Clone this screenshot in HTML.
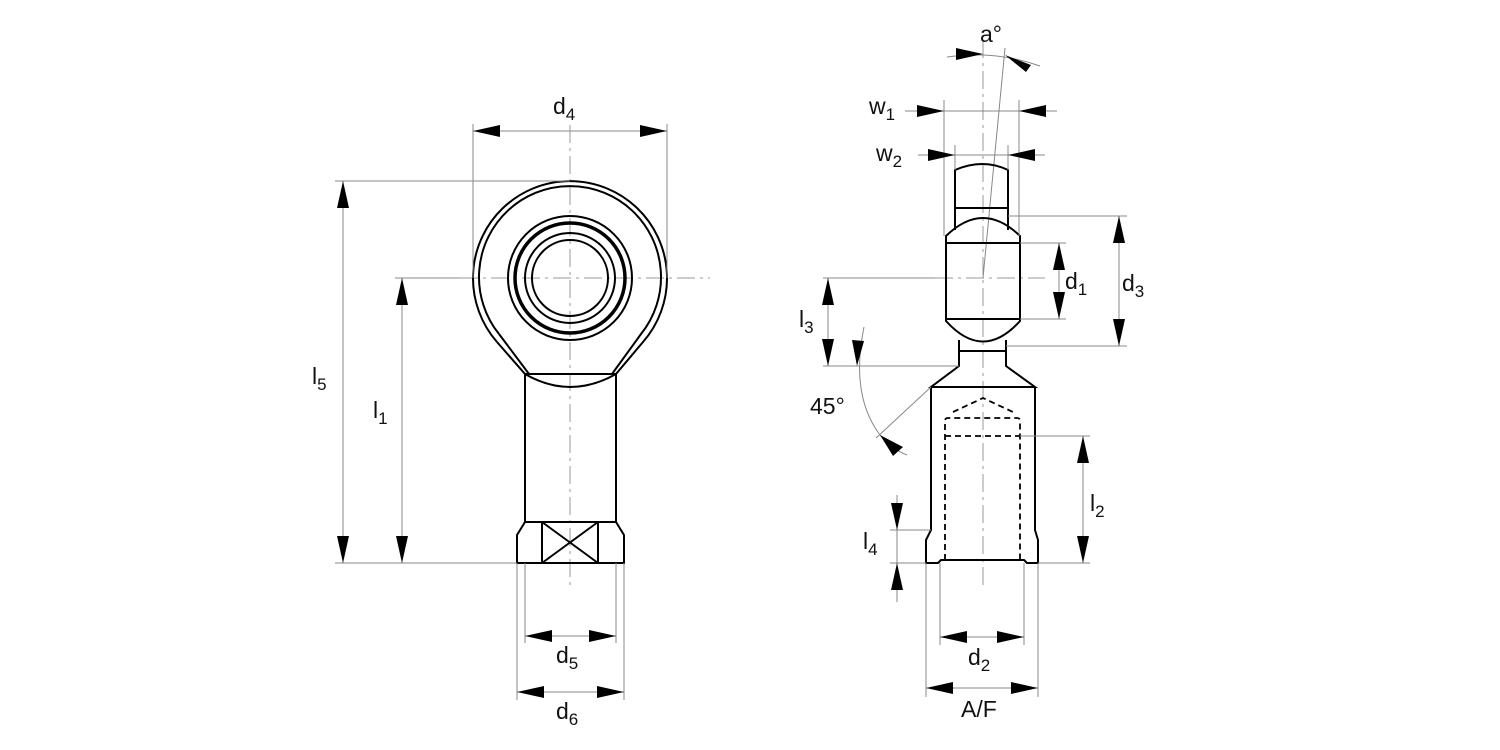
<!DOCTYPE html>
<html><head><meta charset="utf-8"><style>
html,body{margin:0;padding:0;background:#fff;}
svg{display:block;}
text{font-family:"Liberation Sans",Arial,sans-serif;font-size:23px;fill:#111;}
.s{font-size:17px;}
.o{stroke:#000;stroke-width:2;fill:none;}
.t{stroke:#888;stroke-width:1;fill:none;}
.c{stroke:#999;stroke-width:1;fill:none;stroke-dasharray:18,5,3,5;}
.d{stroke:#000;stroke-width:1.8;fill:none;stroke-dasharray:6,4;}
.a{fill:#000;stroke:none;}
</style></head><body>
<svg width="1500" height="750" viewBox="0 0 1500 750" xmlns="http://www.w3.org/2000/svg">
<line class="c" x1="460" y1="278" x2="710" y2="278"/>
<line class="c" x1="570" y1="125" x2="570" y2="585"/>
<path class="o" d="M497,342 A97,97 0 1 1 643,342 L616,374"/>
<path class="o" d="M497,342 L525,374"/>
<path class="o" d="M499,334 A91,91 0 1 1 641,334 L612,374"/>
<path class="o" d="M499,334 L529,374"/>
<circle class="o" cx="570" cy="278" r="62"/>
<circle cx="570" cy="278" r="55" fill="none" stroke="#000" stroke-width="3.5"/>
<circle class="o" cx="570" cy="278" r="45"/>
<circle class="o" cx="570" cy="278" r="38"/>
<path class="o" d="M525,374 L616,374 M525,374 L525,522 M616,374 L616,522"/>
<path class="o" d="M525,374 Q570,400 616,374"/>
<path class="o" d="M525,522 L616,522 L624,535 L624,563 L517,563 L517,535 Z"/>
<path class="o" d="M542,522 L542,563 M598,522 L598,563 M542,522 L598,563 M598,522 L542,563"/>
<line class="t" x1="473" y1="124" x2="473" y2="278"/>
<line class="t" x1="667" y1="124" x2="667" y2="278"/>
<line class="t" x1="473" y1="131" x2="667" y2="131"/>
<polygon class="a" points="473,131 500,125 500,137"/><polygon class="a" points="667,131 640,125 640,137"/>
<text x="553" y="114">d<tspan class="s" dy="6">4</tspan></text>
<line class="t" x1="335" y1="181" x2="570" y2="181"/>
<line class="t" x1="395" y1="278" x2="460" y2="278"/>
<line class="t" x1="335" y1="563" x2="517" y2="563"/>
<line class="t" x1="343" y1="181" x2="343" y2="563"/>
<polygon class="a" points="343,181 337,208 349,208"/><polygon class="a" points="343,563 337,536 349,536"/>
<line class="t" x1="402" y1="278" x2="402" y2="563"/>
<polygon class="a" points="402,278 396,305 408,305"/><polygon class="a" points="402,563 396,536 408,536"/>
<text x="312" y="384">l<tspan class="s" dy="6">5</tspan></text>
<text x="373" y="418">l<tspan class="s" dy="6">1</tspan></text>
<line class="t" x1="525" y1="563" x2="525" y2="643"/><line class="t" x1="616" y1="563" x2="616" y2="643"/>
<line class="t" x1="525" y1="636" x2="616" y2="636"/>
<polygon class="a" points="525,636 552,630 552,642"/><polygon class="a" points="616,636 589,630 589,642"/>
<text x="556" y="663">d<tspan class="s" dy="6">5</tspan></text>
<line class="t" x1="517" y1="563" x2="517" y2="700"/><line class="t" x1="624" y1="563" x2="624" y2="700"/>
<line class="t" x1="517" y1="692" x2="624" y2="692"/>
<polygon class="a" points="517,692 544,686 544,698"/><polygon class="a" points="624,692 597,686 597,698"/>
<text x="556" y="719">d<tspan class="s" dy="6">6</tspan></text>

<line class="c" x1="983" y1="40" x2="983" y2="585"/>
<line class="c" x1="935" y1="278" x2="1045" y2="278"/>
<line class="t" x1="1005" y1="48" x2="983" y2="278"/>
<path class="o" d="M955,230 L955,170 Q983,158 1008,170 L1008,230"/>
<line class="o" x1="955" y1="208" x2="1008" y2="208"/>
<path class="o" d="M946,236 Q983,200 1020,236 L1020,321 Q983,362 946,321 Z"/>
<line class="o" x1="946" y1="243" x2="1020" y2="243"/>
<line class="o" x1="946" y1="319" x2="1020" y2="319"/>
<path class="o" d="M959,340 L959,366 L931,387 L1035,387 L1006,366 L1006,340"/>
<line class="o" x1="959" y1="351" x2="1006" y2="351"/>
<path class="o" d="M931,387 L931,530 L926,540 L926,563 L938,563 L941,560 L1024,560 L1027,563 L1038,563 L1038,540 L1035,530 L1035,387"/>
<path class="d" d="M945,560 L945,421 Q945,418 948,418 L1017,418 Q1020,418 1020,421 L1020,560"/>
<line class="d" x1="945" y1="436" x2="1020" y2="436"/>
<path class="d" d="M953,412 L983,398 L1013,412"/>
<path class="t" d="M947,57 Q995,50 1040,66"/>
<polygon class="a" points="983,54 956,48 956,60"/>
<polygon class="a" points="1005,55 1031,65 1026,72" />
<text x="980" y="42">a°</text>
<line class="t" x1="944" y1="100" x2="944" y2="236"/><line class="t" x1="1019" y1="100" x2="1019" y2="236"/>
<line class="t" x1="905" y1="111" x2="1057" y2="111"/>
<polygon class="a" points="944,111 917,105 917,117"/><polygon class="a" points="1019,111 1046,105 1046,117"/>
<text x="869" y="114">w<tspan class="s" dy="6">1</tspan></text>
<line class="t" x1="955" y1="145" x2="955" y2="170"/><line class="t" x1="1008" y1="145" x2="1008" y2="170"/>
<line class="t" x1="918" y1="155" x2="1045" y2="155"/>
<polygon class="a" points="955,155 928,149 928,161"/><polygon class="a" points="1008,155 1035,149 1035,161"/>
<text x="876" y="161">w<tspan class="s" dy="6">2</tspan></text>
<line class="t" x1="1020" y1="243" x2="1066" y2="243"/><line class="t" x1="1020" y1="319" x2="1066" y2="319"/>
<line class="t" x1="1059" y1="243" x2="1059" y2="319"/>
<polygon class="a" points="1059,243 1053,270 1065,270"/><polygon class="a" points="1059,319 1053,292 1065,292"/>
<text x="1065" y="289">d<tspan class="s" dy="6">1</tspan></text>
<line class="t" x1="1008" y1="216" x2="1127" y2="216"/><line class="t" x1="1006" y1="346" x2="1127" y2="346"/>
<line class="t" x1="1119" y1="216" x2="1119" y2="346"/>
<polygon class="a" points="1119,216 1113,243 1125,243"/><polygon class="a" points="1119,346 1113,319 1125,319"/>
<text x="1122" y="291">d<tspan class="s" dy="6">3</tspan></text>
<line class="t" x1="823" y1="278" x2="935" y2="278"/><line class="t" x1="823" y1="366" x2="959" y2="366"/>
<line class="t" x1="828" y1="278" x2="828" y2="366"/>
<polygon class="a" points="828,278 822,305 834,305"/><polygon class="a" points="828,366 822,339 834,339"/>
<text x="799" y="327">l<tspan class="s" dy="6">3</tspan></text>
<path class="t" d="M864,327 Q850,395 880,435 Q893,450 907,455"/>
<polygon class="a" points="857,366 852,340 864,341"/>
<polygon class="a" points="880,435 903,447 893,456"/>
<line class="t" x1="931" y1="387" x2="876" y2="438"/>
<text x="810" y="414">45°</text>
<line class="t" x1="1020" y1="436" x2="1090" y2="436"/><line class="t" x1="1038" y1="563" x2="1090" y2="563"/>
<line class="t" x1="1083" y1="436" x2="1083" y2="563"/>
<polygon class="a" points="1083,436 1077,463 1089,463"/><polygon class="a" points="1083,563 1077,536 1089,536"/>
<text x="1090" y="511">l<tspan class="s" dy="6">2</tspan></text>
<line class="t" x1="890" y1="530" x2="931" y2="530"/><line class="t" x1="890" y1="563" x2="926" y2="563"/>
<line class="t" x1="897" y1="495" x2="897" y2="602"/>
<polygon class="a" points="897,530 891,503 903,503"/><polygon class="a" points="897,563 891,590 903,590"/>
<text x="863" y="549">l<tspan class="s" dy="6">4</tspan></text>
<line class="t" x1="940" y1="563" x2="940" y2="645"/><line class="t" x1="1024" y1="563" x2="1024" y2="645"/>
<line class="t" x1="940" y1="637" x2="1024" y2="637"/>
<polygon class="a" points="940,637 967,631 967,643"/><polygon class="a" points="1024,637 997,631 997,643"/>
<text x="968" y="665">d<tspan class="s" dy="6">2</tspan></text>
<line class="t" x1="926" y1="563" x2="926" y2="697"/><line class="t" x1="1038" y1="563" x2="1038" y2="697"/>
<line class="t" x1="926" y1="688" x2="1038" y2="688"/>
<polygon class="a" points="926,688 953,682 953,694"/><polygon class="a" points="1038,688 1011,682 1011,694"/>
<text x="961" y="717">A/F</text>
</svg>
</body></html>
